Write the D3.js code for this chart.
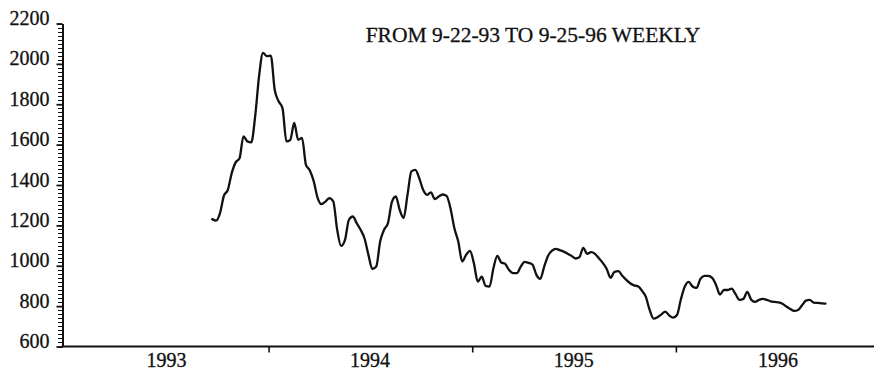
<!DOCTYPE html>
<html>
<head>
<meta charset="utf-8">
<script src="https://cdn.jsdelivr.net/npm/d3@7"></script>
<style>
  html, body { margin: 0; padding: 0; background: #fff; }
  svg { display: block; }
  text { font-family: "Liberation Serif", "Times New Roman", serif; fill: #111; stroke: #111; stroke-width: 0.3px; }
</style>
</head>
<body>
<svg id="chart" width="874" height="370"></svg>
<script>
// Weekly closing values, first week 9-22-93, last week 9-25-96
const firstWeek = new Date(1993, 8, 22);
const weeklyValues = [
  1231, 1224, 1261, 1347, 1376, 1459, 1512, 1532, 1641, 1616,
  1611, 1740, 1939, 2054, 2038, 2041, 1872, 1815, 1781, 1616,
  1624, 1707, 1624, 1633, 1500, 1472, 1418, 1335, 1305, 1318,
  1335, 1318, 1178, 1098, 1128, 1228, 1244, 1211, 1178, 1135,
  1054, 984, 996, 1120, 1178, 1211, 1315, 1343, 1277, 1236,
  1351, 1467, 1475, 1434, 1376, 1351, 1363, 1330, 1343, 1353,
  1346, 1285, 1186, 1120, 1021, 1054, 1074, 1012, 921, 946,
  900, 897, 988, 1049, 1016, 1009, 979, 963, 963, 996,
  1019, 1014, 1006, 955, 935, 996, 1050, 1075, 1084, 1077,
  1070, 1060, 1049, 1036, 1042, 1089, 1059, 1067, 1059, 1037,
  1014, 984, 940, 970, 973, 950, 930, 913, 903, 898,
  877, 847, 781, 738, 745, 759, 773, 754, 743, 756,
  834, 897, 920, 897, 890, 935, 950, 950, 940, 905,
  857, 880, 880, 887, 859, 831, 836, 870, 832, 821,
  831, 836, 831, 824, 821, 819, 812, 798, 786, 776,
  781, 804, 827, 831, 817, 816, 814, 812
];
const yMajorTicks = [600, 800, 1000, 1200, 1400, 1600, 1800, 2000, 2200];
const yearLabels = [1993, 1994, 1995, 1996];
const titleText = "FROM 9-22-93 TO 9-25-96 WEEKLY";

const series = weeklyValues.map((v, i) => ({ date: d3.timeDay.offset(firstWeek, 7 * i), value: v }));

const svg = d3.select("#chart");

const x = d3.scaleTime()
  .domain([new Date(1993, 0, 1), new Date(1997, 0, 1)])
  .range([64.9, 880.1]);

const y = d3.scaleLinear()
  .domain([600, 2200])
  .range([346.5, 23.5]);

const axisLeftX = 62.5;
const axisBottomY = 346.5;

// Y axis: minor ticks every 20, major ticks with labels every 200
const minorTicks = d3.range(600, 2201, 20);
svg.append("g")
  .attr("transform", `translate(${axisLeftX},0)`)
  .call(d3.axisLeft(y).tickValues(minorTicks).tickSize(5).tickSizeOuter(0).tickFormat(""))
  .call(g => g.select(".domain").attr("stroke", "#111").attr("stroke-width", 2))
  .call(g => g.selectAll(".tick")
    .attr("transform", d => `translate(0,${Math.round(y(d)) + 0.5})`))
  .call(g => g.selectAll(".tick line").attr("stroke", "#111").attr("stroke-width", 1.5)
    .attr("shape-rendering", "crispEdges"));

svg.append("g")
  .attr("transform", `translate(${axisLeftX},0)`)
  .call(d3.axisLeft(y).tickValues(yMajorTicks).tickSize(6).tickSizeOuter(0).tickPadding(7).tickFormat(d3.format("d")))
  .call(g => g.select(".domain").remove())
  .call(g => g.selectAll(".tick line").attr("stroke", "#111").attr("stroke-width", 1.8))
  .call(g => g.selectAll(".tick text")
    .attr("dy", "0.05em")
    .attr("font-size", 20)
    .attr("font-family", "Liberation Serif, serif")
    .attr("fill", "#111"));

// X axis: year boundaries as ticks, year labels centred in each year
const yearBounds = [new Date(1994, 0, 1), new Date(1995, 0, 1), new Date(1996, 0, 1)];
const xAxis = svg.append("g").attr("transform", `translate(0,${axisBottomY})`);
xAxis.append("line")
  .attr("x1", axisLeftX - 1).attr("x2", 874)
  .attr("stroke", "#111").attr("stroke-width", 2.2);
xAxis.call(d3.axisBottom(x).tickValues(yearBounds).tickSize(6).tickSizeOuter(0).tickFormat(""))
  .call(g => g.select(".domain").remove())
  .call(g => g.selectAll(".tick line").attr("stroke", "#111").attr("stroke-width", 1.6));

xAxis.selectAll("text.year")
  .data(yearLabels)
  .join("text")
  .attr("class", "year")
  .attr("x", d => x(new Date(d, 6, 2)))
  .attr("y", 20)
  .attr("text-anchor", "middle")
  .attr("font-size", 20)
  .text(d => d);

// Title
svg.append("text")
  .attr("x", 533)
  .attr("y", 42)
  .attr("text-anchor", "middle")
  .attr("font-size", 21.5)
  .text(titleText);

// Price line
const line = d3.line()
  .x(d => x(d.date))
  .y(d => y(d.value))
  .curve(d3.curveMonotoneX);

svg.append("path")
  .datum(series)
  .attr("fill", "none")
  .attr("stroke", "#111")
  .attr("stroke-width", 2.3)
  .attr("stroke-linejoin", "round")
  .attr("stroke-linecap", "round")
  .attr("d", line);
</script>
</body>
</html>
